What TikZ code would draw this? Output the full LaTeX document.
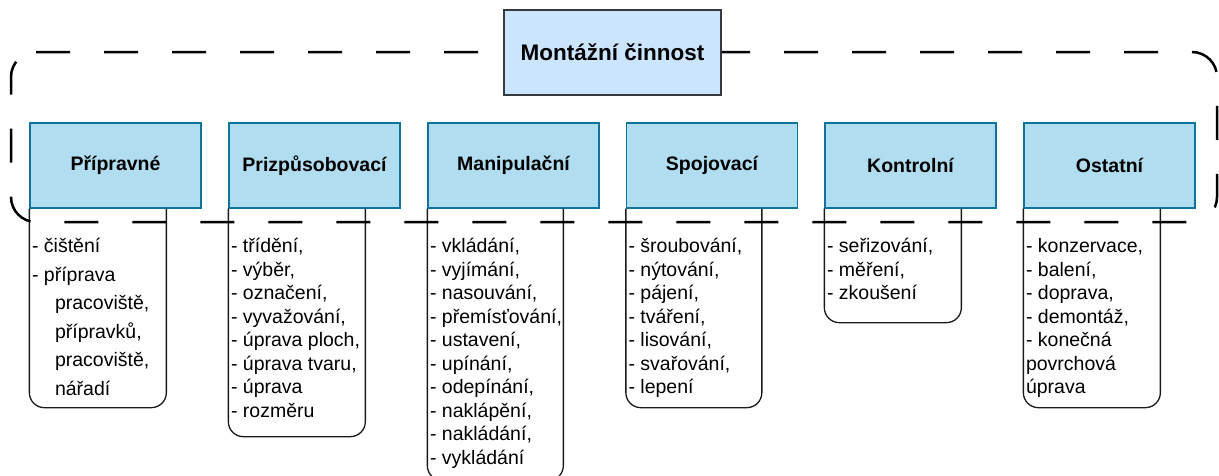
\documentclass[tikz,border=0pt]{standalone}
\usepackage{fontspec}
\setmainfont{Liberation Sans}
\usetikzlibrary{calc}
\definecolor{titlefill}{HTML}{CCE5FF}
\definecolor{titleline}{HTML}{36393D}
\definecolor{catfill}{HTML}{B1DDF0}
\definecolor{catline}{HTML}{10739E}
\definecolor{listline}{HTML}{1A1A1A}

\begin{document}
\begin{tikzpicture}[x=1pt,y=-1pt,
  titlebox/.style={draw=titleline, fill=titlefill, line width=1.3pt,
    minimum width=217pt, minimum height=85pt, inner sep=0pt,
    font=\fontsize{22.5}{27}\selectfont\bfseries},
  catbox/.style={draw=catline, fill=catfill, line width=1.3pt,
    minimum width=171pt, minimum height=85pt, inner sep=0pt,
    font=\fontsize{19.5}{23.5}\selectfont\bfseries},
  listtext/.style={anchor=north west, inner sep=0pt, align=left,
    font=\fontsize{19.5}{23.5}\selectfont},
  listframe/.style={draw=listline, line width=1.3pt, rounded corners=15pt},
  groupframe/.style={draw=black, line width=2.5pt,
    dash pattern=on 34pt off 34pt}
]
\useasboundingbox (0,0) rectangle (1219,475);

% category headers
\node[catbox] (c1) at (115.5,165.5) {Přípravné};
\node[catbox] (c2) at (314.5,165.5) {Prizpůsobovací};
\node[catbox] (c3) at (513.5,165.5) {Manipulační};
\node[catbox] (c4) at (712,165.5) {Spojovací};
\node[catbox] (c5) at (910.5,165.5) {Kontrolní};
\node[catbox] (c6) at (1109.5,165.5) {Ostatní};

% lower corners of the item lists
\coordinate (b1) at ($(c1.south west)+(137,199)$);
\coordinate (b2) at ($(c2.south west)+(137,228)$);
\coordinate (b3) at ($(c3.south west)+(136,272)$);
\coordinate (b4) at ($(c4.south west)+(136,199)$);
\coordinate (b5) at ($(c5.south west)+(137,114)$);
\coordinate (b6) at ($(c6.south west)+(137,199)$);

% item lists, open at the top
\foreach \i in {1,...,6}{
  \draw[listframe] (c\i.south west) -- (c\i.south west |- b\i) -- (b\i) -- (b\i |- c\i.south);
}

\node[listtext, font=\fontsize{19.5}{28.5}\selectfont] (t1) at ($(c1.south west)+(2.5,24.05)$)
  {\strut- čištění\\\strut- příprava\\\strut\hspace*{23pt}pracoviště,\\\strut\hspace*{23pt}přípravků,\\\strut\hspace*{23pt}pracoviště,\\\strut\hspace*{23pt}nářadí};
\node[listtext] (t2) at ($(c2.south west)+(2.5,27.55)$)
  {\strut- třídění,\\\strut- výběr,\\\strut- označení,\\\strut- vyvažování,\\\strut- úprava ploch,\\\strut- úprava tvaru,\\\strut- úprava\\\strut- rozměru};
\node[listtext] (t3) at ($(c3.south west)+(2.5,27.55)$)
  {\strut- vkládání,\\\strut- vyjímání,\\\strut- nasouvání,\\\strut- přemísťování,\\\strut- ustavení,\\\strut- upínání,\\\strut- odepínání,\\\strut- naklápění,\\\strut- nakládání,\\\strut- vykládání};
\node[listtext] (t4) at ($(c4.south west)+(2.5,27.55)$)
  {\strut- šroubování,\\\strut- nýtování,\\\strut- pájení,\\\strut- tváření,\\\strut- lisování,\\\strut- svařování,\\\strut- lepení};
\node[listtext] (t5) at ($(c5.south west)+(2.5,27.55)$)
  {\strut- seřizování,\\\strut- měření,\\\strut- zkoušení};
\node[listtext] (t6) at ($(c6.south west)+(2.5,27.55)$)
  {\strut- konzervace,\\\strut- balení,\\\strut- doprava,\\\strut- demontáž,\\\strut- konečná\\\strut povrchová\\\strut úprava};

% dashed group outline, traced clockwise from the end of the upper left corner
\draw[groupframe] (36,52) -- (1192,52) arc (270:360:25) -- (1217,197) arc (0:90:25)
  -- (36,222) arc (90:180:25) -- (11,77) arc (180:270:25) -- cycle;

% title
\node[titlebox] (top) at (612.5,52.5) {Montážní činnost};
\end{tikzpicture}
\end{document}
